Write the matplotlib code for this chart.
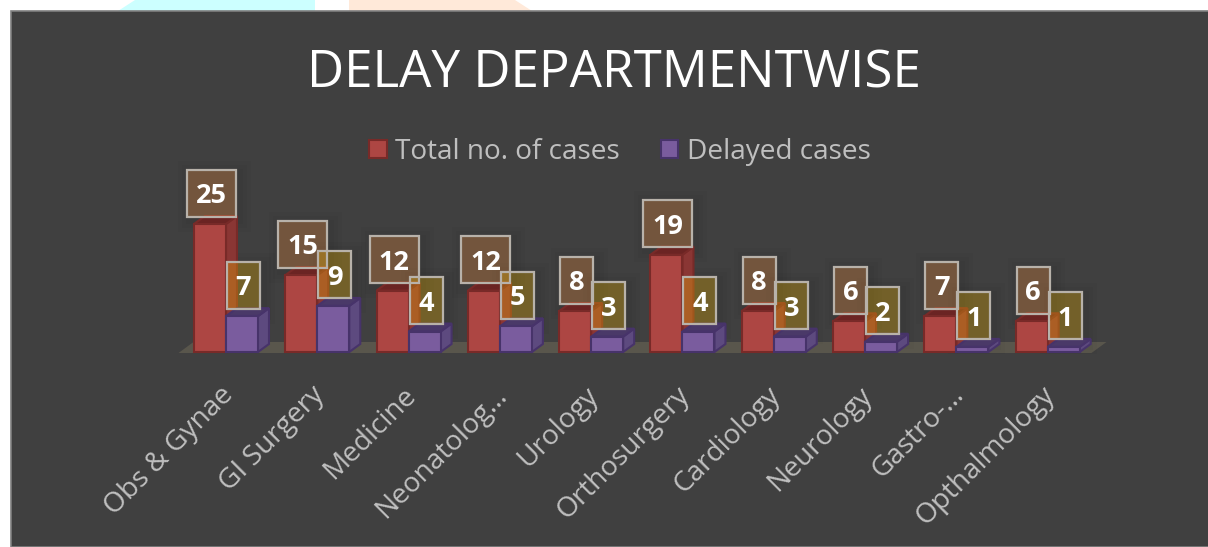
#!/usr/bin/env python3
# -*- coding: utf-8 -*-
import matplotlib
matplotlib.use('Agg')
import matplotlib.pyplot as plt
from matplotlib.patches import Polygon, Rectangle
from matplotlib.transforms import ScaledTranslation

plt.rcParams['font.family'] = ['Open Sans', 'DejaVu Sans']

departments = ['Obs & Gynae', 'GI Surgery', 'Medicine', 'Neonatolog…', 'Urology',
               'Orthosurgery', 'Cardiology', 'Neurology', 'Gastro-…', 'Opthalmology']
total_cases = [25, 15, 12, 12, 8, 19, 8, 6, 7, 6]
delayed_cases = [7, 9, 4, 5, 3, 4, 3, 2, 1, 1]

W, H = 1208, 547
fig = plt.figure(figsize=(W / 100, H / 100), dpi=100, facecolor='white')


def fig_xy(px, py):
    return (px / W, 1 - py / H)


# bits of the slide behind the chart
fig.add_artist(Polygon([fig_xy(118, 11), fig_xy(135, 0), fig_xy(315, 0), fig_xy(315, 11)],
                       transform=fig.transFigure, fc='#ccffff', ec='none', zorder=-3))
fig.add_artist(Polygon([fig_xy(349, 11), fig_xy(349, 0), fig_xy(515, 0), fig_xy(532, 11)],
                       transform=fig.transFigure, fc='#ffe9d9', ec='none', zorder=-3))
fig.add_artist(Rectangle(fig_xy(10.5, 546.5), 1198 / W, 536 / H, transform=fig.transFigure,
                         fc='#404040', ec='#7f7f7f', lw=1.2, zorder=-2))

ax = fig.add_axes([178.5 / W, (H - 352) / H, 913 / W, 153.6 / H])
ax.set_xlim(-0.52, 9.48)
ax.set_ylim(0, 30)
ax.patch.set_visible(False)
for s in ax.spines.values():
    s.set_visible(False)

# one pixel in data units
px_x = 10 / 913
px_y = 30 / 153.6
bar_w = 32 * px_x
dx = 11 * px_x
dy = 8 * px_y

# floor of the 3D chart
ax.add_patch(Polygon([(-0.52, -1 * px_y), (9.48, -1 * px_y), (9.48 + 15 * px_x, 10 * px_y),
                      (-0.52 + 15 * px_x, 10 * px_y)], fc='#59564c', ec='none', clip_on=False))


def bar3d(x0, h, front, top, side, edge, zo):
    ax.fill([x0 + bar_w, x0 + bar_w + dx, x0 + bar_w + dx, x0 + bar_w],
            [0, dy, h + dy, h], fc=side, ec=edge, lw=1.5, zorder=zo, clip_on=False)
    ax.fill([x0, x0 + bar_w, x0 + bar_w + dx, x0 + dx],
            [h, h, h + dy, h + dy], fc=top, ec=edge, lw=1.5, zorder=zo, clip_on=False)
    return ax.bar(x0, h, width=bar_w, align='edge', fc=front, ec=edge, lw=1.5,
                  zorder=zo + 0.1, clip_on=False)


def value_box(xc, h, val, fc, alpha):
    w = (49 if val >= 10 else 33) * px_x
    box_h = 47 * px_y
    yc = h + 31 * px_y
    # soft shadow
    for grow, a in ((12, 0.02), (8, 0.025), (4, 0.03)):
        ax.add_patch(Rectangle((xc - w / 2 + 3 * px_x - grow * px_x, yc - box_h / 2 - 3 * px_y - grow * px_y),
                               w + 2 * grow * px_x, box_h + 2 * grow * px_y, fc='black', ec='none',
                               alpha=a, zorder=2, clip_on=False))
    ax.add_patch(Rectangle((xc - w / 2, yc - box_h / 2), w, box_h, fc=fc, ec='none', alpha=alpha,
                           zorder=6, clip_on=False))
    ax.add_patch(Rectangle((xc - w / 2, yc - box_h / 2), w, box_h, fc='none', ec='#b8b2aa', lw=1.6,
                           zorder=7, clip_on=False))
    ax.text(xc, yc, str(val), color='white', fontsize=19.5, fontweight='bold', ha='center',
            va='center_baseline', zorder=8, clip_on=False)


red_bar = purple_bar = None
for i in range(len(departments)):
    red_bar = bar3d(i - bar_w, total_cases[i], '#ad4643', '#6b2423', '#8a3634', '#782a28', 3)
    purple_bar = bar3d(i, delayed_cases[i], '#7a5c9e', '#4a3968', '#5d4a7f', '#47336a', 4)
for i in range(len(departments)):
    value_box(i - bar_w / 2 + 1.5 * px_x, total_cases[i], total_cases[i], '#f79646', 0.3)
    value_box(i + bar_w / 2 + 1.5 * px_x, delayed_cases[i], delayed_cases[i], '#ffc000', 0.29)

ax.set_xticks(range(len(departments)))
ax.set_xticklabels(departments, rotation=45, ha='right', rotation_mode='anchor',
                   color='#bfbfbf', fontsize=20.2)
ax.tick_params(axis='x', length=0, pad=21)
ax.set_yticks([])
shift = ScaledTranslation(-7 / 100, 0, fig.dpi_scale_trans)
for lab in ax.get_xticklabels():
    lab.set_transform(lab.get_transform() + shift)

fig.text(614 / W, 1 - 74 / H, 'DELAY DEPARTMENTWISE', color='white', fontsize=36.8,
         ha='center', va='center')

leg = fig.legend([red_bar, purple_bar], ['Total no. of cases', 'Delayed cases'], ncol=2,
                 loc='center', bbox_to_anchor=(620 / W, 1 - 152 / H), frameon=False,
                 fontsize=20.2, labelcolor='#bfbfbf', handlelength=0.62, handleheight=0.62,
                 handletextpad=0.3, columnspacing=1.47)

plt.savefig('out.png', dpi=100)
plt.close()
